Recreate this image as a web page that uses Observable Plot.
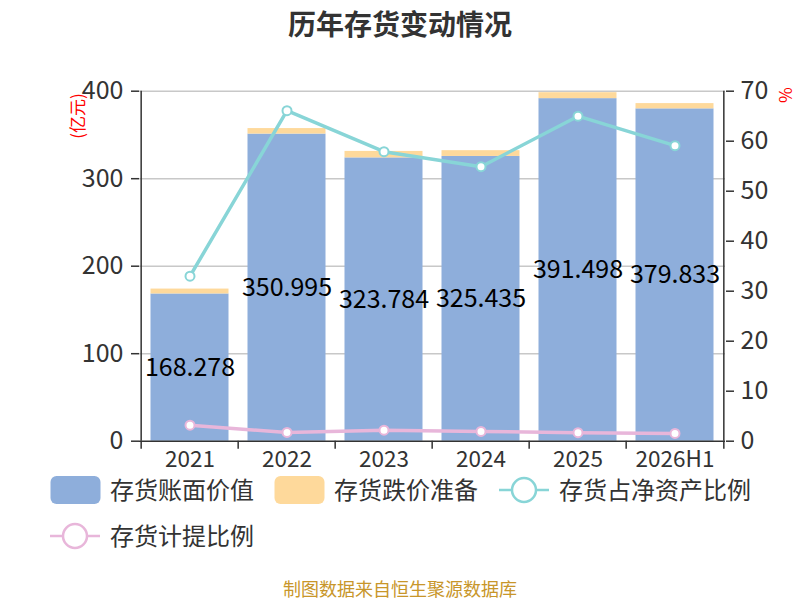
<!DOCTYPE html>
<html>
<head>
<meta charset="utf-8">
<script src="https://cdn.jsdelivr.net/npm/d3@7"></script>
<script src="https://cdn.jsdelivr.net/npm/@observablehq/plot@0.6"></script>
<style>
  html, body { margin: 0; padding: 0; background: #fff; }
  #wrap { position: relative; width: 800px; height: 600px; overflow: hidden; font-family: "Noto Sans CJK SC", "Noto Sans", sans-serif; color: #333; }
  #chart { position: absolute; left: 0; top: 0; }
  .abs { position: absolute; white-space: nowrap; }
  #title { left: 0; width: 800px; top: 4px; text-align: center; font-size: 28px; font-weight: bold; color: #333; line-height: 38px; }
  #caption { left: 0; width: 800px; top: 575px; text-align: center; font-size: 18px; color: #c8962a; line-height: 26px; }
  .legtext { font-size: 24px; color: #333; line-height: 26px; }
  .ylab { font-size: 17px; color: red; line-height: 18px; }
</style>
</head>
<body>
<div id="wrap">
  <div id="chart"></div>
  <div id="title" class="abs">历年存货变动情况</div>
  <div class="abs ylab" style="left:77px;top:116px;transform:translate(-50%,-50%) rotate(-90deg);">(亿元)</div>
  <div class="abs ylab" style="left:786px;top:95px;transform:translate(-50%,-50%) rotate(90deg);">%</div>
  <div id="legend"></div>
  <div id="caption" class="abs">制图数据来自恒生聚源数据库</div>
</div>
<script>
const years = ["2021", "2022", "2023", "2024", "2025", "2026H1"];
const bookValue = [168.278, 350.995, 323.784, 325.435, 391.498, 379.833];
const reserve = [5.6, 6.3, 7.4, 6.6, 6.8, 6.0];
const netAssetRatio = [33.0, 66.1, 57.9, 54.9, 65.0, 59.1];
const provisionRatio = [3.2, 1.75, 2.2, 1.95, 1.7, 1.55];
const leftTicks = [0, 100, 200, 300, 400];
const rightTicks = [0, 10, 20, 30, 40, 50, 60, 70];
const gridTicks = [100, 200, 300, 400];

const blue = "#8eaedb", yellow = "#fed99b", teal = "#88d5d7", pink = "#e8b6da";
const leftMax = 400, rightMax = 70;
const toLeft = v => v * leftMax / rightMax;

const rows = years.map((y, i) => ({
  year: y, book: bookValue[i], total: bookValue[i] + reserve[i],
  nar: toLeft(netAssetRatio[i]), pr: toLeft(provisionRatio[i])
}));

const W = 800, H = 600, mL = 139, mR = 75, mT = 90.7, mB = 159.3;
const bw = (W - mL - mR) / years.length;

const plot = Plot.plot({
  width: W, height: H,
  marginLeft: mL, marginRight: mR, marginTop: mT, marginBottom: mB,
  style: { fontFamily: "'Noto Sans CJK SC', 'Noto Sans', sans-serif", fontSize: "22px", color: "#333", background: "transparent" },
  x: { type: "band", domain: years, padding: 0, axis: null },
  y: { domain: [0, leftMax], axis: null },
  marks: [
    Plot.ruleY(gridTicks, { stroke: "#c8c8c8", strokeWidth: 1.5 }),
    Plot.barY(rows, { x: "year", y1: 0, y2: "book", fill: blue, insetLeft: 9.5, insetRight: 9.5 }),
    Plot.barY(rows, { x: "year", y1: "book", y2: "total", fill: yellow, insetLeft: 9.5, insetRight: 9.5 }),
    Plot.ruleY([0], { stroke: "#333", strokeWidth: 1.5 }),
    Plot.ruleX([years[0]], { x: d => d, dx: -bw / 2, y1: 0, y2: leftMax, stroke: "#333", strokeWidth: 1.5 }),
    Plot.ruleX([years[years.length - 1]], { x: d => d, dx: bw / 2, y1: 0, y2: leftMax, stroke: "#333", strokeWidth: 1.5 }),
    Plot.ruleX(years, { x: d => d, dx: -bw / 2, y1: 0, y2: 0, insetBottom: -8, stroke: "#333", strokeWidth: 1.5 }),
    Plot.ruleX([years[years.length - 1]], { x: d => d, dx: bw / 2, y1: 0, y2: 0, insetBottom: -8, stroke: "#333", strokeWidth: 1.5 }),
    Plot.axisY({ anchor: "left", ticks: leftTicks, tickSize: 8, tickPadding: 8, fontSize: 25, stroke: "#333", strokeWidth: 1.5, fill: "#333", label: null }),
    Plot.axisY({ anchor: "right", ticks: rightTicks.map(toLeft), tickFormat: d => String(Math.round(d * rightMax / leftMax)), tickSize: 8, tickPadding: 7, fontSize: 25, stroke: "#333", strokeWidth: 1.5, fill: "#333", label: null }),
    Plot.axisX({ anchor: "bottom", tickSize: 0, tickPadding: 10, fontSize: 22.5, fill: "#333", label: null }),
    Plot.text(rows, { x: "year", y: d => d.book / 2, text: d => d.book.toFixed(3), fontSize: 25, fill: "#000" }),
    Plot.line(rows, { x: "year", y: "nar", stroke: teal, strokeWidth: 3.5 }),
    Plot.dot(rows, { x: "year", y: "nar", r: 4.5, fill: "#fff", stroke: teal, strokeWidth: 2 }),
    Plot.line(rows, { x: "year", y: "pr", stroke: pink, strokeWidth: 3.5 }),
    Plot.dot(rows, { x: "year", y: "pr", r: 4.5, fill: "#fff", stroke: pink, strokeWidth: 2 })
  ]
});
document.getElementById("chart").appendChild(plot);

// Legend
const legendItems = [
  { label: "存货账面价值", kind: "rect", color: blue, x: 50, y: 490 },
  { label: "存货跌价准备", kind: "rect", color: yellow, x: 274, y: 490 },
  { label: "存货占净资产比例", kind: "line", color: teal, x: 499, y: 490 },
  { label: "存货计提比例", kind: "line", color: pink, x: 50, y: 536 }
];
const leg = document.getElementById("legend");
legendItems.forEach(it => {
  const sw = document.createElementNS("http://www.w3.org/2000/svg", "svg");
  sw.setAttribute("width", 52); sw.setAttribute("height", 30);
  sw.style.position = "absolute"; sw.style.left = it.x + "px"; sw.style.top = (it.y - 15) + "px";
  if (it.kind === "rect") {
    sw.innerHTML = `<rect x="0.5" y="1" width="50" height="28" rx="6" fill="${it.color}"/>`;
  } else {
    sw.innerHTML = `<line x1="0" y1="15" x2="50" y2="15" stroke="${it.color}" stroke-width="2.5"/>` +
      `<circle cx="25" cy="15" r="12" fill="#fff" stroke="${it.color}" stroke-width="2.5"/>`;
  }
  leg.appendChild(sw);
  const t = document.createElement("div");
  t.className = "abs legtext";
  t.textContent = it.label;
  t.style.left = (it.x + 60) + "px";
  t.style.top = (it.y - 14) + "px";
  leg.appendChild(t);
});
</script>
</body>
</html>
